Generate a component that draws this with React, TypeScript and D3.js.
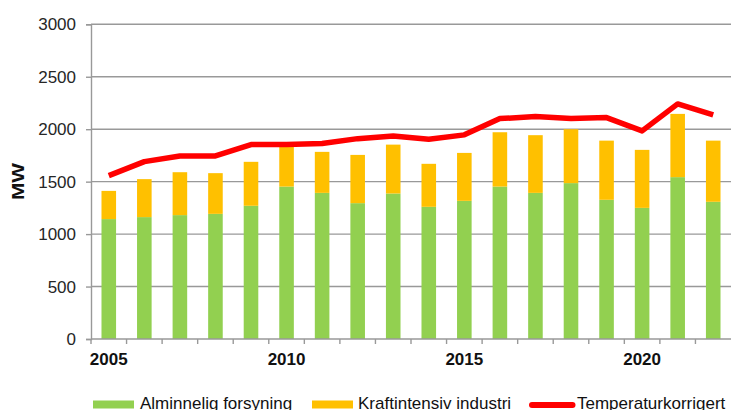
import React, { useEffect, useRef } from "react";
import * as d3 from "d3";

const years = [2005, 2006, 2007, 2008, 2009, 2010, 2011, 2012, 2013, 2014, 2015, 2016, 2017, 2018, 2019, 2020, 2021, 2022];
const alminnelig = [1143, 1162, 1181, 1193, 1270, 1453, 1393, 1295, 1387, 1260, 1317, 1453, 1393, 1486, 1327, 1250, 1543, 1308];
const totals = [1412, 1524, 1590, 1581, 1689, 1834, 1784, 1755, 1853, 1670, 1774, 1971, 1943, 2000, 1891, 1803, 2146, 1891];
const kraftintensiv = totals.map((t, i) => t - alminnelig[i]);
const temperatur = [1558, 1691, 1745, 1745, 1853, 1853, 1863, 1910, 1936, 1905, 1946, 2101, 2120, 2101, 2111, 1984, 2241, 2136];
const yTicks = [0, 500, 1000, 1500, 2000, 2500, 3000];
const labelYears = [2005, 2010, 2015, 2020];

const GREEN = "#92D050";
const ORANGE = "#FFC000";
const RED = "#FF0000";
const GRID = "#999999";
const FONT = "Liberation Sans, Arial, sans-serif";

const App = () => {
  const ref = useRef<SVGSVGElement>(null);

  useEffect(() => {
    const svg = d3.select(ref.current);
    svg.selectAll("*").remove();

    const margin = { top: 24.3, right: 0, bottom: 71, left: 91 };
    const width = 731;
    const height = 410;

    const x = d3
      .scaleBand<number>()
      .domain(years)
      .range([margin.left, width - margin.right])
      .padding(0);

    const y = d3
      .scaleLinear()
      .domain([0, 3000])
      .range([height - margin.bottom, margin.top]);

    // gridlines
    svg
      .append("g")
      .selectAll("line")
      .data(yTicks.filter((d) => d > 0))
      .join("line")
      .attr("x1", margin.left)
      .attr("x2", width)
      .attr("y1", (d) => y(d))
      .attr("y2", (d) => y(d))
      .attr("stroke", GRID)
      .attr("stroke-width", 1.4);

    // stacked bars: green bottom, orange on top
    const barW = x.bandwidth() * 0.41;
    const bars = svg.append("g");
    bars
      .selectAll(".g")
      .data(years)
      .join("rect")
      .attr("x", (d) => x(d)! + (x.bandwidth() - barW) / 2)
      .attr("y", (_, i) => y(alminnelig[i]))
      .attr("width", barW)
      .attr("height", (_, i) => y(0) - y(alminnelig[i]))
      .attr("fill", GREEN);
    bars
      .selectAll(".o")
      .data(years)
      .join("rect")
      .attr("x", (d) => x(d)! + (x.bandwidth() - barW) / 2)
      .attr("y", (_, i) => y(alminnelig[i] + kraftintensiv[i]))
      .attr("width", barW)
      .attr("height", (_, i) => y(alminnelig[i]) - y(alminnelig[i] + kraftintensiv[i]))
      .attr("fill", ORANGE);

    // temperature-corrected line
    const line = d3
      .line<number>()
      .x((_, i) => x(years[i])! + x.bandwidth() / 2)
      .y((d) => y(d));
    svg
      .append("path")
      .datum(temperatur)
      .attr("d", line)
      .attr("fill", "none")
      .attr("stroke", RED)
      .attr("stroke-width", 5.5)
      .attr("stroke-linejoin", "round");

    // y axis
    const yAxis = d3
      .axisLeft(y)
      .tickValues(yTicks)
      .tickSize(5)
      .tickPadding(10)
      .tickFormat((d) => String(d));
    const gy = svg
      .append("g")
      .attr("transform", `translate(${margin.left},0)`)
      .call(yAxis);
    gy.select(".domain").attr("stroke", GRID).attr("stroke-width", 1.4);
    gy.selectAll(".tick line").attr("stroke", GRID).attr("stroke-width", 1.4);
    gy.selectAll(".tick text")
      .attr("font-family", FONT)
      .attr("font-size", 17)
      .attr("fill", "#262626");

    // x axis: ticks at band boundaries, labels every five years
    const gx = svg.append("g").attr("transform", `translate(0,${y(0)})`);
    gx.append("line")
      .attr("x1", margin.left)
      .attr("x2", width)
      .attr("stroke", GRID)
      .attr("stroke-width", 1.4);
    gx.selectAll(".tk")
      .data(years)
      .join("line")
      .attr("x1", (d) => x(d)!)
      .attr("x2", (d) => x(d)!)
      .attr("y1", 0)
      .attr("y2", 5)
      .attr("stroke", GRID)
      .attr("stroke-width", 1.4);
    gx.selectAll(".lbl")
      .data(labelYears)
      .join("text")
      .attr("x", (d) => x(d)! + x.bandwidth() / 2)
      .attr("y", 25.7)
      .attr("text-anchor", "middle")
      .attr("font-family", FONT)
      .attr("font-size", 17)
      .attr("font-weight", "bold")
      .attr("fill", "#111")
      .text((d) => d);

    // y label
    svg
      .append("text")
      .attr("transform", `translate(24.3,181.5) rotate(-90)`)
      .attr("text-anchor", "middle")
      .attr("font-family", FONT)
      .attr("font-size", 17)
      .attr("font-weight", "bold")
      .attr("textLength", 37)
      .attr("lengthAdjust", "spacingAndGlyphs")
      .attr("fill", "#111")
      .text("MW");

    // legend
    const lg = svg.append("g").attr("font-family", FONT).attr("font-size", 17).attr("fill", "#111");
    lg.append("rect").attr("x", 93).attr("y", 400.5).attr("width", 41).attr("height", 8).attr("fill", GREEN);
    lg.append("text").attr("x", 140).attr("y", 409.3).text("Alminnelig forsyning");
    lg.append("rect").attr("x", 312).attr("y", 400.5).attr("width", 41).attr("height", 8).attr("fill", ORANGE);
    lg.append("text").attr("x", 358).attr("y", 409.3).text("Kraftintensiv industri");
    lg.append("line")
      .attr("x1", 532)
      .attr("x2", 572.5)
      .attr("y1", 405)
      .attr("y2", 405)
      .attr("stroke", RED)
      .attr("stroke-width", 6)
      .attr("stroke-linecap", "round");
    lg.append("text").attr("x", 577).attr("y", 409.3).text("Temperaturkorrigert");
  }, []);

  return (
    <svg
      ref={ref}
      width={731}
      height={410}
      style={{ position: "absolute", left: 0, top: 0, background: "#fff" }}
    />
  );
};

export default App;
